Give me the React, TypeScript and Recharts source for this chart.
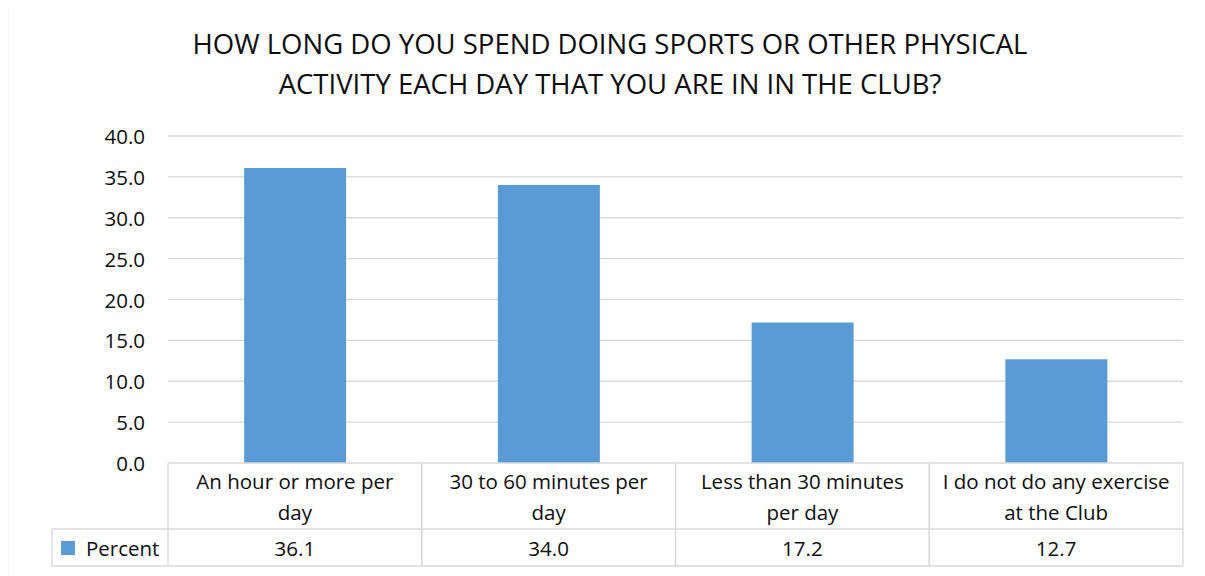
import React from 'react'
import { BarChart, Bar, XAxis, YAxis, CartesianGrid } from 'recharts'

const categories = [
  'An hour or more per day',
  '30 to 60 minutes per day',
  'Less than 30 minutes per day',
  'I do not do any exercise at the Club',
]
// how each category label wraps in its table cell
const categoryLines = [
  ['An hour or more per', 'day'],
  ['30 to 60 minutes per', 'day'],
  ['Less than 30 minutes', 'per day'],
  ['I do not do any exercise', 'at the Club'],
]
const percentValues = [36.1, 34.0, 17.2, 12.7]
const yTicks = [0, 5, 10, 15, 20, 25, 30, 35, 40]
const seriesName = 'Percent'
const titleLines = [
  'HOW LONG DO YOU SPEND DOING SPORTS OR OTHER PHYSICAL',
  'ACTIVITY EACH DAY THAT YOU ARE IN IN THE CLUB?',
]

const W = 1205
const H = 576
const PLOT_LEFT = 168
const PLOT_RIGHT = 1183
const PLOT_TOP = 136
const PLOT_BOTTOM = 463
const LEGEND_LEFT = 52
const BAR_COLOR = '#5b9bd5'
const LINE = '#d9d9d9'
const TEXT = '#0d0d0d'
const FONT = "'Open Sans', 'Noto Sans', sans-serif"
const FS = 20.5

const data = categories.map((name, i) => ({ name, value: percentValues[i] }))

function YTick(props: any) {
  const { x, y, payload } = props
  return (
    <text x={x} y={y} textAnchor="end" dominantBaseline="central" fontSize={FS} fontFamily={FONT} fill={TEXT}>
      {Number(payload.value).toFixed(1)}
    </text>
  )
}

function TableTick(props: any) {
  const { x, y, index } = props
  const bw = (PLOT_RIGHT - PLOT_LEFT) / categories.length
  const left = x - bw / 2
  const right = x + bw / 2
  const rowY = y + 66
  const bottomY = y + 103
  const lines = categoryLines[index] || [categories[index]]
  return (
    <g>
      <line x1={left} x2={right} y1={y} y2={y} stroke={LINE} strokeWidth={1.3} />
      <line x1={left} x2={right} y1={rowY} y2={rowY} stroke={LINE} strokeWidth={1.3} />
      <line x1={left} x2={right} y1={bottomY} y2={bottomY} stroke={LINE} strokeWidth={1.3} />
      <line x1={left} x2={left} y1={y} y2={bottomY} stroke={LINE} strokeWidth={1.3} />
      <line x1={right} x2={right} y1={y} y2={bottomY} stroke={LINE} strokeWidth={1.3} />
      {lines.map((t, k) => (
        <text key={k} x={x} y={y + 18 + k * 31} textAnchor="middle" dominantBaseline="central"
          fontSize={FS} fontFamily={FONT} fill={TEXT}>{t}</text>
      ))}
      <text x={x} y={rowY + 19} textAnchor="middle" dominantBaseline="central"
        fontSize={FS} fontFamily={FONT} fill={TEXT}>{percentValues[index].toFixed(1)}</text>
      {index === 0 && (
        <g>
          <line x1={LEGEND_LEFT} x2={left} y1={rowY} y2={rowY} stroke={LINE} strokeWidth={1.3} />
          <line x1={LEGEND_LEFT} x2={left} y1={bottomY} y2={bottomY} stroke={LINE} strokeWidth={1.3} />
          <line x1={LEGEND_LEFT} x2={LEGEND_LEFT} y1={rowY} y2={bottomY} stroke={LINE} strokeWidth={1.3} />
          <rect x={61} y={rowY + 12} width={14} height={14} fill={BAR_COLOR} />
          <text x={86} y={rowY + 19} dominantBaseline="central"
            fontSize={FS} fontFamily={FONT} fill={TEXT}>{seriesName}</text>
        </g>
      )}
    </g>
  )
}

export default function App() {
  return (
    <div style={{ marginLeft: -8, marginTop: -8, position: 'relative', width: W, height: H, background: '#fff', overflow: 'hidden' }}>
      <div style={{ position: 'absolute', left: 0, top: 24, width: 1220, textAlign: 'center', fontFamily: FONT, fontSize: 27.5, lineHeight: '40px', color: TEXT }}>
        {titleLines.map((t, i) => <div key={i}>{t}</div>)}
      </div>
      <div style={{ position: 'absolute', left: 0, top: 0 }}>
        <BarChart
          width={W}
          height={H}
          data={data}
          margin={{ top: PLOT_TOP, right: W - PLOT_RIGHT, bottom: 0, left: 0 }}
          barCategoryGap="30%"
        >
          <CartesianGrid vertical={false} stroke={LINE} strokeWidth={1.3} horizontalValues={yTicks.filter(v => v > 0)} />
          <XAxis dataKey="name" height={H - PLOT_BOTTOM} axisLine={false} tickLine={false} tickSize={0} tickMargin={0}
            interval={0} tick={<TableTick />} />
          <YAxis width={PLOT_LEFT} domain={[0, 40]} ticks={yTicks} axisLine={false} tickLine={false} tickSize={0}
            tickMargin={23} tick={<YTick />} />
          <Bar dataKey="value" fill={BAR_COLOR} isAnimationActive={false} />
        </BarChart>
      </div>
      {/* chart area frame */}
      <svg width={W} height={H} style={{ position: 'absolute', left: 0, top: 0, pointerEvents: 'none' }}>
        <path d={`M7.5 ${H} V5.5 H${W}`} fill="none" stroke={LINE} strokeWidth={1.5} />
      </svg>
    </div>
  )
}
